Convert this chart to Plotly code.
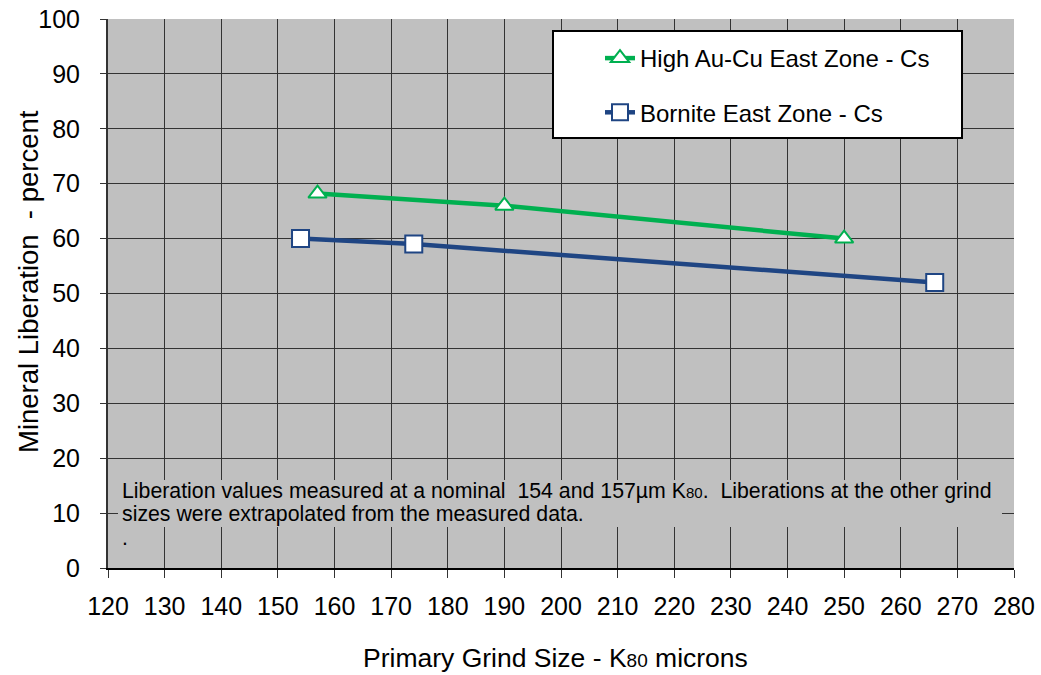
import plotly.graph_objects as go

green_x = [157, 190, 250]
green_y = [68.2, 66, 60]
blue_x = [154, 174, 266]
blue_y = [60, 59, 52]
green_name = "High Au-Cu East Zone - Cs"
blue_name = "Bornite East Zone - Cs"
x_ticks = list(range(120, 281, 10))
y_ticks = list(range(0, 101, 10))
x_title = "Primary Grind Size - K<span style='font-size:19px'>80</span> microns"
y_title = "Mineral Liberation  - percent"
note_lines = [
    "Liberation values measured at a nominal  154 and 157µm K<span style='font-size:15px'>80</span>.  Liberations at the other grind",
    "sizes were extrapolated from the measured data.",
    ".",
]

GREEN = "#00B050"
BLUE = "#1F4583"
font = "Arial, Liberation Sans, sans-serif"

fig = go.Figure()
fig.add_trace(go.Scatter(
    x=green_x, y=green_y, name=green_name, mode="lines+markers",
    line=dict(color=GREEN, width=4.5),
    marker=dict(symbol="triangle-up", size=16, color="white",
                line=dict(color=GREEN, width=2)),
    legendgroup="g"))
fig.add_trace(go.Scatter(
    x=blue_x, y=blue_y, name=blue_name, mode="lines+markers",
    line=dict(color=BLUE, width=4.5),
    marker=dict(symbol="square", size=17, color="white",
                line=dict(color=BLUE, width=2)),
    legendgroup="b"))

L, R, T, B = 108, 27, 19, 107
W, H = 1041, 675
pw, ph = W - L - R, H - T - B


def px(x):
    return (x - L) / pw


def py(y):
    return (H - B - y) / ph


fig.update_layout(
    width=W, height=H,
    margin=dict(l=L, r=R, t=T, b=B),
    paper_bgcolor="white", plot_bgcolor="#C0C0C0",
    font=dict(family=font, size=25, color="black"),
    showlegend=True,
    legend=dict(x=px(600), y=py(36), xanchor="left", yanchor="top",
                bgcolor="rgba(0,0,0,0)", borderwidth=0,
                font=dict(size=24), tracegroupgap=20),
    xaxis=dict(range=[120, 280], tickvals=x_ticks, ticks="outside",
               ticklen=8, tickcolor="#333", showgrid=True,
               gridcolor="#333", gridwidth=1, showline=True,
               linecolor="black", linewidth=2, zeroline=False,
               ticklabelstandoff=7, automargin=False),
    yaxis=dict(range=[0, 100], tickvals=y_ticks, ticks="outside",
               ticklen=6, tickcolor="#333", showgrid=True,
               gridcolor="#333", gridwidth=1, showline=True,
               linecolor="#333", linewidth=2, zeroline=False,
               ticklabelstandoff=15, automargin=False),
    shapes=[
        # legend box
        dict(type="rect", xref="paper", yref="paper", layer="above",
             x0=px(553), x1=px(962), y0=py(138), y1=py(31),
             fillcolor="white", line=dict(color="black", width=2)),
        # note background
        dict(type="rect", xref="paper", yref="paper", layer="above",
             x0=px(118), x1=px(1002), y0=py(527), y1=py(480),
             fillcolor="#C0C0C0", line=dict(width=0)),
    ],
)

# axis titles
fig.add_annotation(xref="paper", yref="paper", x=px(555), y=py(658),
                   xanchor="center", yanchor="middle", text=x_title,
                   showarrow=False, font=dict(size=26.5, family=font))
fig.add_annotation(xref="paper", yref="paper", x=px(28), y=py(282),
                   xanchor="center", yanchor="middle", text=y_title,
                   textangle=-90, showarrow=False,
                   font=dict(size=27.5, family=font))

for text, yc in zip(note_lines, [491, 514, 538]):
    fig.add_annotation(
        xref="paper", yref="paper", x=px(120), y=py(yc),
        xanchor="left", yanchor="middle", text=text, showarrow=False,
        align="left", font=dict(size=21.3, family=font, color="black"))

fig.write_html("out.html", config={"displayModeBar": False},
               post_script="document.body.style.margin='0';")
